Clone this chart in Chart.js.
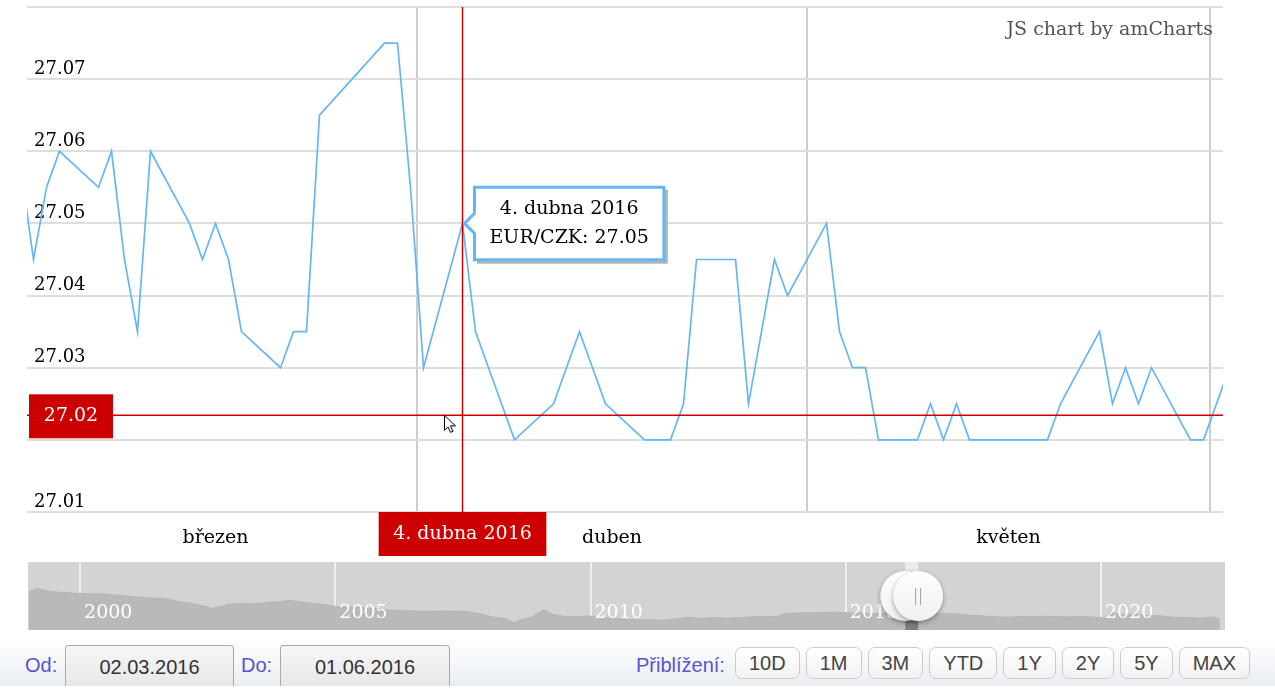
<!DOCTYPE html>
<html>
<head>
<meta charset="utf-8">
<script src="https://cdn.jsdelivr.net/npm/chart.js@4.4.1/dist/chart.umd.min.js"></script>
<style>
body { margin:0; width:1275px; height:699px; position:relative; overflow:hidden; background:#fff; font-family:'Liberation Sans', Arial, sans-serif; }
#main { position:absolute; left:0; top:0; }
#nav { position:absolute; left:28px; top:562px; }
.credit { position:absolute; right:62px; top:17px; font:19px 'DejaVu Serif', serif; color:#555; }
.bar { position:absolute; left:0; top:638px; width:1275px; height:48px; overflow:hidden; background:linear-gradient(#fff, #eaeef2); }
.lbl { position:absolute; top:16px; font-size:20px; color:#5555cc; }
.inp { position:absolute; top:7px; height:46px; border:1px solid #a9a9a9; border-radius:3px; background:linear-gradient(#f6f6f6,#e6e6e6); color:#333; font-size:20px; text-align:center; line-height:42px; box-sizing:border-box; }
.btns { position:absolute; left:735px; top:9px; display:flex; gap:6px; }
.btns span { display:block; height:32px; line-height:30px; padding:0 13px; box-sizing:border-box; border:1px solid #ccc; border-radius:7px; background:linear-gradient(#fff,#f1f1f1); color:#444; font-size:20px; }
</style>
</head>
<body>
<canvas id="main" width="1275" height="560"></canvas>
<canvas id="nav" width="1197" height="68"></canvas>
<div class="credit">JS chart by amCharts</div>
<div class="bar">
  <span class="lbl" style="left:25px">Od:</span>
  <div class="inp" style="left:65px;width:169px">02.03.2016</div>
  <span class="lbl" style="left:241px">Do:</span>
  <div class="inp" style="left:280px;width:170px">01.06.2016</div>
  <span class="lbl" style="left:636px">Přiblížení:</span>
  <div class="btns"><span>10D</span><span>1M</span><span>3M</span><span>YTD</span><span>1Y</span><span>2Y</span><span>5Y</span><span>MAX</span></div>
</div>
<script>
// EUR/CZK, denní kurzy (obchodní dny)
const dates = ['2016-03-01','2016-03-02','2016-03-03','2016-03-04','2016-03-07','2016-03-08','2016-03-09','2016-03-10','2016-03-11',
  '2016-03-14','2016-03-15','2016-03-16','2016-03-17','2016-03-18','2016-03-21','2016-03-22','2016-03-23','2016-03-24',
  '2016-03-29','2016-03-30','2016-03-31','2016-04-01','2016-04-04','2016-04-05','2016-04-06','2016-04-07','2016-04-08',
  '2016-04-11','2016-04-12','2016-04-13','2016-04-14','2016-04-15','2016-04-18','2016-04-19','2016-04-20','2016-04-21','2016-04-22',
  '2016-04-25','2016-04-26','2016-04-27','2016-04-28','2016-04-29','2016-05-02','2016-05-03','2016-05-04','2016-05-05','2016-05-06',
  '2016-05-09','2016-05-10','2016-05-11','2016-05-12','2016-05-13','2016-05-16','2016-05-17','2016-05-18','2016-05-19','2016-05-20',
  '2016-05-23','2016-05-24','2016-05-25','2016-05-26','2016-05-27','2016-05-30','2016-05-31','2016-06-01','2016-06-02'];
const rates = [27.058,27.045,27.055,27.06,27.055,27.06,27.045,27.035,27.06,
  27.05,27.045,27.05,27.045,27.035,27.03,27.035,27.035,27.065,
  27.075,27.075,27.055,27.03,27.05,27.035,27.03,27.025,27.02,
  27.025,27.03,27.035,27.03,27.025,27.02,27.02,27.02,27.025,27.045,
  27.045,27.025,27.035,27.045,27.04,27.05,27.035,27.03,27.03,27.02,
  27.02,27.025,27.02,27.025,27.02,27.02,27.02,27.02,27.02,27.025,
  27.035,27.025,27.03,27.025,27.03,27.02,27.02,27.025,27.03];

const monthNames = ['březen','duben','květen'];
const monthGen = ['ledna','února','března','dubna','května','června','července','srpna','září','října','listopadu','prosince'];
const yTicks = [27.01,27.02,27.03,27.04,27.05,27.06,27.07,27.08];

const rangeFrom = '2016-03-02';
const rangeTo = '2016-06-02';
const cursorDate = '2016-04-04';
const cursorValue = 27.0234;

// navigator (celá historie)
const navDates = ['1999-01','1999-03','1999-06','1999-09','1999-12','2000-03','2000-06','2000-09','2000-12',
  '2001-03','2001-06','2001-09','2001-12','2002-03','2002-06','2002-08','2002-10','2002-12',
  '2003-03','2003-06','2003-09','2003-12','2004-02','2004-05','2004-08','2004-11',
  '2005-02','2005-05','2005-08','2005-11','2006-02','2006-05','2006-08','2006-11',
  '2007-02','2007-05','2007-08','2007-11','2008-02','2008-05','2008-07','2008-09','2008-11',
  '2009-02','2009-04','2009-07','2009-10','2010-01','2010-04','2010-07','2010-10',
  '2011-01','2011-04','2011-07','2011-10','2011-12','2012-03','2012-06','2012-09','2012-12',
  '2013-03','2013-06','2013-09','2013-11','2014-03','2014-06','2014-09','2014-12',
  '2015-03','2015-06','2015-09','2015-12','2016-03','2016-06','2016-09','2016-12',
  '2017-03','2017-06','2017-09','2017-12','2018-03','2018-06','2018-09','2018-12',
  '2019-03','2019-06','2019-09','2019-12','2020-02','2020-03','2020-06','2020-09','2020-12',
  '2021-03','2021-06','2021-09','2021-12','2022-03','2022-05'];
const navValues = [36.9,38.4,37.0,36.6,36.2,36.0,36.0,35.5,35.0,
  34.5,34.0,34.0,32.5,31.8,30.5,29.4,30.2,31.2,
  31.6,31.5,32.2,32.4,33.0,32.3,31.6,31.0,
  30.0,30.1,29.6,29.2,28.6,28.4,28.2,28.0,
  28.2,28.1,27.9,27.0,25.5,24.8,23.0,24.5,25.3,
  28.8,26.8,25.8,25.7,26.0,25.4,25.0,24.4,
  24.3,24.2,24.1,25.0,25.5,24.8,25.3,25.0,25.2,
  25.6,25.7,25.8,27.2,27.4,27.4,27.6,27.7,
  27.3,27.2,27.05,27.02,27.05,27.03,27.02,27.02,
  27.02,26.3,26.1,25.6,25.4,25.8,25.7,25.9,
  25.7,25.6,25.8,25.4,25.0,27.5,26.7,26.8,26.2,
  26.1,25.4,25.4,25.0,25.6,24.7];
const navYears = [2000,2005,2010,2015,2020];

const lineColor = '#66b5f4';
const red = '#cc0000';
const serif = "'DejaVu Serif', serif";
const font18 = { family: serif, size: 18 };
const font19 = { family: serif, size: 19 };

function utc(s) {
    const p = s.split('-').map(Number);
    return Date.UTC(p[0], p[1] - 1, p[2] || 1);
}
const day0 = utc(rangeFrom);
function dayOf(s) { return (utc(s) - day0) / 86400000 + 0.5; }
function yearOf(s) {
    const y = Number(s.slice(0, 4));
    return y + (utc(s) - Date.UTC(y, 0, 1)) / (Date.UTC(y + 1, 0, 1) - Date.UTC(y, 0, 1));
}
function czDate(s) {
    const p = s.split('-').map(Number);
    return p[2] + '. ' + monthGen[p[1] - 1] + ' ' + p[0];
}

const xMax = dayOf(rangeTo) - 0.5;
// hranice a středy měsíců v rozsahu
const monthStart = [];
const monthMid = [];
for (let m = 2; m <= 5; m++) {
    const a = (Date.UTC(2016, m, 1) - day0) / 86400000;
    const b = (Date.UTC(2016, m + 1, 1) - day0) / 86400000;
    if (a > 0) monthStart.push(a);
    if (m < 5) monthMid.push((a + b) / 2);
}
const cursorIdx = dates.indexOf(cursorDate);

const cursorPlugin = {
    id: 'cursor',
    afterDatasetsDraw(chart) {
        const ctx = chart.ctx, a = chart.chartArea;
        const px = chart.scales.x.getPixelForValue(dayOf(cursorDate));
        const py = chart.scales.y.getPixelForValue(cursorValue);
        ctx.save();
        ctx.strokeStyle = red;
        ctx.lineWidth = 1.5;
        ctx.beginPath();
        ctx.moveTo(px, a.top); ctx.lineTo(px, a.bottom);
        ctx.moveTo(a.left, py); ctx.lineTo(a.right, py);
        ctx.stroke();

        ctx.font = "19px 'DejaVu Serif', serif";
        ctx.textAlign = 'center';
        ctx.textBaseline = 'middle';
        // hodnota vlevo
        ctx.fillStyle = red;
        ctx.fillRect(a.left + 2, py - 21, 84, 44);
        ctx.fillStyle = '#fff';
        ctx.fillText(cursorValue.toFixed(2), a.left + 44, py + 1);
        // datum dole
        const t = czDate(cursorDate);
        const w = ctx.measureText(t).width + 29;
        ctx.fillStyle = red;
        ctx.fillRect(px - w / 2, a.bottom, w, 44);
        ctx.fillStyle = '#fff';
        ctx.fillText(t, px, a.bottom + 22);

        // kurzor myši
        const mx = px - 18, my = py;
        ctx.beginPath();
        ctx.moveTo(mx, my);
        ctx.lineTo(mx, my + 15);
        ctx.lineTo(mx + 3.5, my + 11.5);
        ctx.lineTo(mx + 6, my + 17);
        ctx.lineTo(mx + 8.5, my + 16);
        ctx.lineTo(mx + 6, my + 10.5);
        ctx.lineTo(mx + 11, my + 10.5);
        ctx.closePath();
        ctx.fillStyle = '#fff';
        ctx.fill();
        ctx.strokeStyle = '#000';
        ctx.lineWidth = 1;
        ctx.stroke();
        ctx.restore();
    },
    beforeTooltipDraw(chart, args) {
        const t = args.tooltip;
        if (!t.opacity) return;
        const ctx = chart.ctx;
        ctx.save();
        ctx.fillStyle = '#b4b4b4';
        ctx.fillRect(t.x + 2.5, t.y + 2.5, t.width + 1.5, t.height + 1.5);
        ctx.restore();
    }
};

const chart = new Chart(document.getElementById('main'), {
    type: 'line',
    data: {
        datasets: [{
            label: 'EUR/CZK',
            data: dates.map((d, i) => ({ x: dayOf(d), y: rates[i] })),
            borderColor: lineColor,
            borderWidth: 1.7,
            pointRadius: 0,
            pointHoverRadius: 0,
            tension: 0
        }]
    },
    options: {
        responsive: false,
        animation: false,
        events: [],
        layout: { padding: { left: 27, right: 52, top: 7, bottom: 0 } },
        plugins: {
            legend: { display: false },
            tooltip: {
                xAlign: 'left',
                yAlign: 'center',
                caretSize: 10,
                caretPadding: 2,
                cornerRadius: 0,
                backgroundColor: '#fff',
                borderColor: lineColor,
                borderWidth: 3,
                titleColor: '#000',
                bodyColor: '#000',
                titleFont: { family: serif, size: 19, weight: 'normal' },
                bodyFont: font19,
                titleAlign: 'center',
                bodyAlign: 'center',
                padding: { top: 11, bottom: 10, left: 15, right: 15 },
                titleMarginBottom: 6,
                displayColors: false,
                callbacks: {
                    title: items => czDate(dates[items[0].dataIndex]),
                    label: item => 'EUR/CZK: ' + item.parsed.y.toFixed(2)
                }
            }
        },
        scales: {
            x: {
                type: 'linear',
                min: 0,
                max: xMax,
                afterBuildTicks: s => { s.ticks = monthMid.map(v => ({ value: v })); },
                grid: { display: false },
                border: { display: false },
                ticks: { callback: (v, i) => monthNames[i], font: font19, color: '#000', padding: 7, maxRotation: 0, autoSkip: false },
                afterFit: s => { s.height = 48; }
            },
            xg: {
                type: 'linear',
                position: 'bottom',
                min: 0,
                max: xMax,
                afterBuildTicks: s => { s.ticks = monthStart.map(v => ({ value: v })); },
                grid: { color: '#cdcdcd', lineWidth: 2, drawTicks: false },
                border: { display: false },
                ticks: { display: false },
                afterFit: s => { s.height = 0; }
            },
            y: {
                min: yTicks[0],
                max: yTicks[yTicks.length - 1],
                afterBuildTicks: s => { s.ticks = yTicks.map(v => ({ value: v })); },
                grid: { color: '#dedede', lineWidth: 2, drawTicks: false },
                border: { display: false },
                ticks: {
                    mirror: true,
                    padding: 7,
                    labelOffset: -10,
                    font: font18,
                    color: '#000',
                    callback: v => v > 27.075 ? '' : v.toFixed(2)
                },
                afterFit: s => { s.width = 0; s.paddingTop = 0; s.paddingBottom = 0; }
            }
        }
    },
    plugins: [cursorPlugin]
});

chart.tooltip.setActiveElements([{ datasetIndex: 0, index: cursorIdx }], { x: 0, y: 0 });
chart.update();

// navigator
const navPlugin = {
    id: 'navigator',
    beforeDraw(c) {
        const a = c.chartArea;
        c.ctx.save();
        c.ctx.fillStyle = '#d3d3d3';
        c.ctx.fillRect(a.left, a.top, a.right - a.left, a.bottom - a.top);
        c.ctx.restore();
    },
    afterDraw(c) {
        const ctx = c.ctx, a = c.chartArea, xs = c.scales.x, ys = c.scales.y;
        ctx.save();
        ctx.font = "19px 'DejaVu Serif', serif";
        ctx.fillStyle = '#fff';
        ctx.textBaseline = 'middle';
        navYears.forEach(y => ctx.fillText(String(y), xs.getPixelForValue(y) + 4, 51));

        const x0 = xs.getPixelForValue(yearOf(rangeFrom));
        const x1 = xs.getPixelForValue(yearOf(rangeTo));
        const top = ys.getPixelForValue(27.04);
        ctx.fillStyle = '#ebebeb';
        ctx.fillRect(x0, a.top, x1 - x0, top - a.top);
        ctx.fillStyle = '#7e7e7e';
        ctx.fillRect(x0, top, x1 - x0, a.bottom - top);

        [x0, x1].forEach((x, k) => {
            ctx.save();
            ctx.shadowColor = 'rgba(0,0,0,0.35)';
            ctx.shadowBlur = 5;
            ctx.shadowOffsetY = 2;
            ctx.beginPath();
            ctx.arc(x, 34, 25, 0, Math.PI * 2);
            const g = ctx.createLinearGradient(0, 9, 0, 59);
            g.addColorStop(0, '#ffffff');
            g.addColorStop(1, '#f0f0f0');
            ctx.fillStyle = g;
            ctx.fill();
            ctx.restore();
            if (k === 1) {
                ctx.strokeStyle = '#a0a0a0';
                ctx.lineWidth = 1;
                ctx.beginPath();
                ctx.moveTo(x - 2.5, 26); ctx.lineTo(x - 2.5, 43);
                ctx.moveTo(x + 2.5, 26); ctx.lineTo(x + 2.5, 43);
                ctx.stroke();
            }
        });
        ctx.restore();
    }
};

new Chart(document.getElementById('nav'), {
    type: 'line',
    data: {
        datasets: [{
            data: navDates.map((d, i) => ({ x: yearOf(d), y: navValues[i] })),
            fill: 'start',
            backgroundColor: '#b9b9b9',
            borderColor: '#b5b5b5',
            borderWidth: 1,
            pointRadius: 0,
            tension: 0
        }]
    },
    options: {
        responsive: false,
        animation: false,
        events: [],
        layout: { padding: 0 },
        plugins: { legend: { display: false }, tooltip: { enabled: false } },
        scales: {
            x: {
                type: 'linear',
                min: 1998.98,
                max: 2022.43,
                z: 1,
                afterBuildTicks: s => { s.ticks = navYears.map(v => ({ value: v })); },
                grid: { color: '#efefef', lineWidth: 2, drawTicks: false },
                border: { display: false },
                ticks: { display: false },
                afterFit: s => { s.height = 0; }
            },
            y: { display: false, min: 19.7, max: 50.3 }
        }
    },
    plugins: [navPlugin]
});
</script>
</body>
</html>
